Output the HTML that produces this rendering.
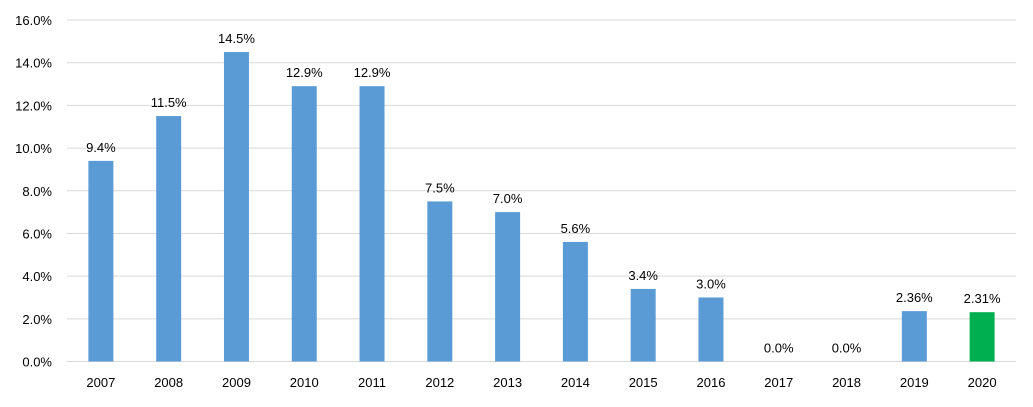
<!DOCTYPE html>
<html><head><meta charset="utf-8"><style>
body{margin:0;background:#fff;}
svg text{font-family:"Liberation Sans",sans-serif;font-size:13px;fill:#000;}
</style></head><body>
<svg width="1033" height="402">
<g id="grid"></g><g id="bars"></g><g id="labels"></g>
</svg>
<script>
const categories=["2007","2008","2009","2010","2011","2012","2013","2014","2015","2016","2017","2018","2019","2020"];
const values=[9.4,11.5,14.5,12.9,12.9,7.5,7.0,5.6,3.4,3.0,0.0,0.0,2.36,2.31];
const valueLabels=["9.4%","11.5%","14.5%","12.9%","12.9%","7.5%","7.0%","5.6%","3.4%","3.0%","0.0%","0.0%","2.36%","2.31%"];
const ticks=[0,2,4,6,8,10,12,14,16];
const highlight=[false,false,false,false,false,false,false,false,false,false,false,false,false,true];
const NS="http://www.w3.org/2000/svg";
const x0=67,x1=1016,yTop=20,yBot=361.5,vMax=16;
const band=(x1-x0)/categories.length;
const y=v=>yBot-(v/vMax)*(yBot-yTop);
const xc=i=>x0+band*(i+0.5);
function mk(t,a,p){const e=document.createElementNS(NS,t);for(const k in a)e.setAttribute(k,a[k]);p.appendChild(e);return e;}
const g=document.getElementById('grid'),b=document.getElementById('bars'),l=document.getElementById('labels');
ticks.forEach(t=>{
const ln=mk('line',{x1:x0,x2:x1,y1:y(t),y2:y(t),stroke:'#d9d9d9','stroke-width':1},g);


const tx=mk('text',{x:52,y:y(t)+5,'text-anchor':'end'},g);tx.textContent=t.toFixed(1)+'%';


});
categories.forEach((c,i)=>{
const w=25;
const r=mk('rect',{x:xc(i)-w/2,y:y(values[i]),width:w,height:yBot-y(values[i]),fill:highlight[i]?'#00b050':'#5b9bd5'},b);


const vt=mk('text',{x:xc(i),y:y(values[i])-9,'text-anchor':'middle'},l);vt.textContent=valueLabels[i];


const ct=mk('text',{x:xc(i),y:387,'text-anchor':'middle'},l);ct.textContent=c;


});
</script>
</body></html>
